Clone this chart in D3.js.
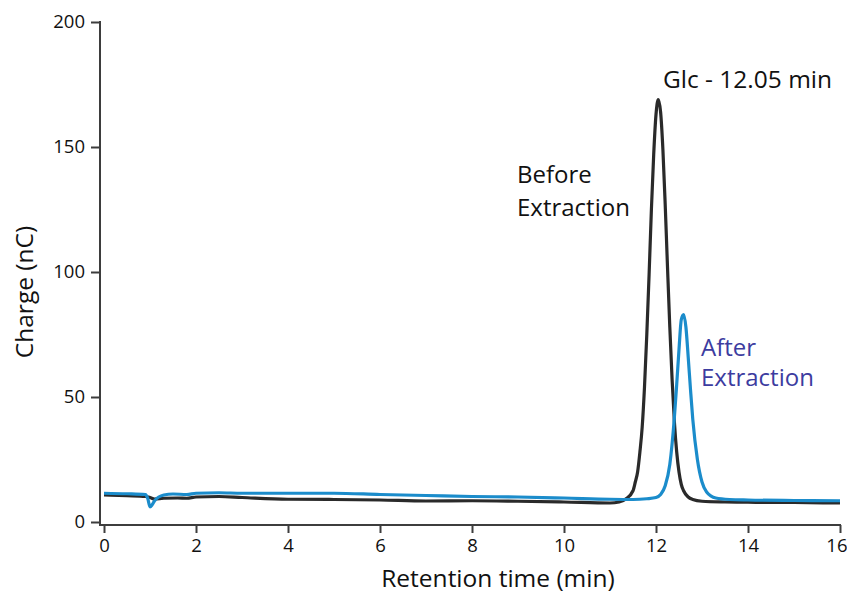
<!DOCTYPE html>
<html>
<head>
<meta charset="utf-8">
<script src="https://cdn.jsdelivr.net/npm/d3@7"></script>
<style>
  body { margin: 0; background: #fff; }
  svg { display: block; font-family: "Open Sans", "Noto Sans", sans-serif; }
</style>
</head>
<body>
<svg id="chart" width="847" height="596"></svg>
<script>
// retention time (min) and charge (nC)
const beforeTime = [0, 0.5, 0.9, 1.0, 1.1, 1.3, 1.6, 1.8, 2.0, 2.5, 3, 4, 5, 6, 7, 8, 9, 10, 11, 11.2, 11.35,
    11.5, 11.55, 11.6, 11.65, 11.7, 11.75, 11.8, 11.85, 11.9, 11.95, 12.0, 12.05, 12.1, 12.15, 12.2, 12.25,
    12.3, 12.35, 12.4, 12.45, 12.5, 12.55, 12.6, 12.7, 12.8, 13.0, 13.5, 14, 15, 16];
const beforeCharge = [10.8, 10.5, 10.2, 9.8, 9.2, 9.5, 9.6, 9.5, 10.0, 10.2, 9.8, 9.1, 9.0, 8.8, 8.4, 8.5, 8.3, 8.0, 7.6, 8.0, 9.3,
    12.5, 16, 20, 28, 38, 54, 75, 99, 125, 147, 163, 169, 164, 149, 127, 102,
    78, 57, 40, 28, 20, 15, 12.5, 10, 9, 8.3, 8.0, 7.9, 7.8, 7.6];

const afterTime = [0, 0.5, 0.9, 0.95, 1.0, 1.05, 1.1, 1.3, 1.5, 1.8, 2.0, 2.5, 3, 4, 5, 6, 7, 8, 9, 10, 11, 11.5,
    11.8, 12.0, 12.1, 12.2, 12.3, 12.4, 12.45, 12.5, 12.55, 12.6, 12.65, 12.7, 12.75, 12.8, 12.9, 13.0, 13.1, 13.3,
    13.6, 14, 15, 16];
const afterCharge = [11.5, 11.3, 11.0, 9.5, 6.0, 7.0, 8.5, 10.8, 11.2, 11.0, 11.5, 11.7, 11.5, 11.5, 11.5, 11.0, 10.6, 10.2, 10.0, 9.6, 9.1, 9.0,
    9.3, 9.8, 11, 14.5, 23, 42, 55, 69, 81, 83, 78, 66, 53, 41, 25, 16, 12, 9.6,
    9.0, 8.8, 8.6, 8.5];

const xTicks = [0, 2, 4, 6, 8, 10, 12, 14, 16];
const yTicks = [0, 50, 100, 150, 200];

const beforeData = beforeTime.map((t, i) => ({ t, v: beforeCharge[i] }));
const afterData = afterTime.map((t, i) => ({ t, v: afterCharge[i] }));

const svg = d3.select("#chart");
const axisColor = "#3d3d3d";

const x = d3.scaleLinear().domain([0, 16]).range([104, 840]);
const y = d3.scaleLinear().domain([0, 200]).range([522, 22]);
const axisY = 525;   // x axis sits a little below zero
const axisX = 100;   // y axis sits a little left of t = 0

// y axis
const gy = svg.append("g")
    .attr("transform", `translate(${axisX},0)`)
    .call(d3.axisLeft(y).tickValues(yTicks).tickSize(9).tickPadding(6).tickFormat(d3.format("d")));
gy.select(".domain").remove();
gy.append("line")
    .attr("x1", 0).attr("x2", 0)
    .attr("y1", y(200) - 1).attr("y2", axisY + 1)
    .attr("stroke", axisColor).attr("stroke-width", 2);

// x axis
const gx = svg.append("g")
    .attr("transform", `translate(0,${axisY})`)
    .call(d3.axisBottom(x).tickValues(xTicks).tickSize(8).tickPadding(6));
gx.select(".domain").remove();
gx.append("line")
    .attr("x1", axisX).attr("x2", x(16) + 1)
    .attr("y1", 0).attr("y2", 0)
    .attr("stroke", axisColor).attr("stroke-width", 2);

svg.selectAll(".tick line").attr("stroke", axisColor).attr("stroke-width", 2);
svg.selectAll(".tick text")
    .attr("fill", "#111")
    .style("font-size", "18.5px")
    .style("font-family", "'Open Sans', sans-serif");
// last label sits against the right edge
gx.selectAll(".tick text").filter(d => d === 16).attr("text-anchor", "end").attr("dx", 7);

// axis titles
svg.append("text")
    .attr("transform", "translate(33,292) rotate(-90)")
    .attr("text-anchor", "middle")
    .attr("fill", "#111")
    .style("font-size", "24.5px")
    .text("Charge (nC)");

svg.append("text")
    .attr("x", 498).attr("y", 587)
    .attr("text-anchor", "middle")
    .attr("fill", "#111")
    .style("font-size", "24.5px")
    .text("Retention time (min)");

// traces
const line = d3.line()
    .x(d => x(d.t))
    .y(d => y(d.v))
    .curve(d3.curveMonotoneX);

svg.append("path")
    .datum(beforeData)
    .attr("fill", "none")
    .attr("stroke", "#2a2a2a")
    .attr("stroke-width", 3.2)
    .attr("stroke-linejoin", "round")
    .attr("d", line);

svg.append("path")
    .datum(afterData)
    .attr("fill", "none")
    .attr("stroke", "#1b8ccb")
    .attr("stroke-width", 3.2)
    .attr("stroke-linejoin", "round")
    .attr("d", line);

// annotations
svg.append("text")
    .attr("x", 663).attr("y", 88)
    .attr("fill", "#111")
    .style("font-size", "24.5px")
    .text("Glc - 12.05 min");

const before = svg.append("text")
    .attr("x", 517).attr("y", 183)
    .attr("fill", "#111")
    .style("font-size", "24px");
before.append("tspan").attr("x", 517).text("Before");
before.append("tspan").attr("x", 517).attr("dy", 32.5).text("Extraction");

svg.append("text")
    .attr("x", 701).attr("y", 356)
    .attr("fill", "#3c3ca0")
    .style("font-size", "24px")
    .text("After");
svg.append("text")
    .attr("x", 701).attr("y", 386)
    .attr("fill", "#3c3ca0")
    .style("font-size", "24px")
    .text("Extraction");
</script>
</body>
</html>
